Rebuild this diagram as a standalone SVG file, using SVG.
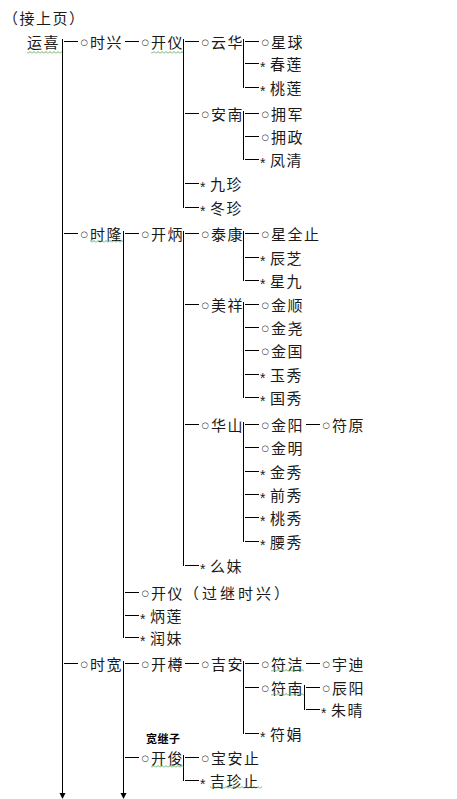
<svg xmlns="http://www.w3.org/2000/svg" width="457" height="799" viewBox="0 0 457 799">
<style>
text{font-family:"Noto Sans CJK SC","Noto Sans",sans-serif;font-size:15px;letter-spacing:1.5px;fill:#1a1a1a}
.o{font-family:"DejaVu Sans",sans-serif;font-size:8.5px;letter-spacing:0}
.s{font-family:"Liberation Sans",Arial,sans-serif;font-size:14px;letter-spacing:0}
.w{letter-spacing:3px}
.note{font-size:11px;font-weight:bold;letter-spacing:0.5px;fill:#000}
.ln{stroke:#000;stroke-width:1;fill:none;shape-rendering:crispEdges}
.sq{fill:url(#sq)}
</style>
<defs>
<marker id="arr" markerUnits="userSpaceOnUse" markerWidth="7" markerHeight="7" refX="0" refY="3" orient="auto"><path d="M0,0 L6,3 L0,6 z" fill="#000"/></marker>
<pattern id="sq" width="4" height="3" patternUnits="userSpaceOnUse"><path d="M0,2.5 L2,0.5 L4,2.5" fill="none" stroke="#3c9a3c" stroke-width="0.8"/></pattern>
</defs>
<rect width="457" height="799" fill="#fff"/>
<text x="3" y="24">（接上页）</text>
<g id="connectors">
<path class="ln" d="M62.5 39V793" marker-end="url(#arr)"/>
<path class="ln" d="M64 41.5H78M64 233.5H78M64 663.5H78"/>
<path class="ln" d="M125 41.5H139"/>
<path class="ln" d="M123.5 231V637.5M125 233.5H139M125 592.5H139M125 615.5H139M125 637.5H139"/>
<path class="ln" d="M123.5 661V793" marker-end="url(#arr)"/>
<path class="ln" d="M125 663.5H139M125 757.5H139"/>
<path class="ln" d="M183.5 39V207.5M185 41.5H199M185 113.5H199M185 183.5H199M185 207.5H199"/>
<path class="ln" d="M183.5 231V565.5M185 233.5H199M185 304.5H199M185 424.5H199M185 565.5H199"/>
<path class="ln" d="M185 663.5H199"/>
<path class="ln" d="M183.5 755V780.5M185 757.5H199M185 780.5H199"/>
<path class="ln" d="M243.5 39V87.5M245 41.5H259M245 63.5H259M245 87.5H259"/>
<path class="ln" d="M243.5 111V159.5M245 113.5H259M245 136.5H259M245 159.5H259"/>
<path class="ln" d="M243.5 231V280.5M245 233.5H259M245 257.5H259M245 280.5H259"/>
<path class="ln" d="M243.5 302V397.5M245 304.5H259M245 327.5H259M245 350.5H259M245 374.5H259M245 397.5H259"/>
<path class="ln" d="M243.5 422V541.5M245 424.5H259M245 447.5H259M245 471.5H259M245 494.5H259M245 517.5H259M245 541.5H259"/>
<path class="ln" d="M243.5 661V733.5M245 663.5H259M245 687.5H259M245 733.5H259"/>
<path class="ln" d="M306 424.5H320M306 663.5H320"/>
<path class="ln" d="M304.5 685V709.5M306 687.5H320M306 709.5H320"/>
</g>
<g id="n-yunxi"><text x="27" y="47.5">运喜</text><rect class="sq" x="27" y="51" width="35" height="3"/></g>
<g id="n-shixing"><text><tspan class="o" x="80.5" y="44.5">○</tspan><tspan x="90" y="47.5">时兴</tspan></text></g>
<g id="n-shilong"><text><tspan class="o" x="80.5" y="236.5">○</tspan><tspan x="90" y="239.5">时隆</tspan></text><rect class="sq" x="90" y="240" width="33" height="3"/></g>
<g id="n-shikuan"><text><tspan class="o" x="80.5" y="666.5">○</tspan><tspan x="90" y="669.5">时宽</tspan></text></g>
<g id="n-kaiyi"><text><tspan class="o" x="141.5" y="44.5">○</tspan><tspan x="151" y="47.5">开仪</tspan></text><rect class="sq" x="151" y="51" width="32" height="3"/></g>
<g id="n-kaibing"><text><tspan class="o" x="141.5" y="236.5">○</tspan><tspan x="151" y="239.5">开炳</tspan></text></g>
<g id="n-kaiyi2"><text><tspan class="o" x="141.5" y="595.5">○</tspan><tspan x="151" y="598.5">开仪</tspan><tspan class="w">（过继时兴）</tspan></text></g>
<g id="n-binglian"><text><tspan class="s" x="140" y="624">*</tspan><tspan x="150" y="621.5">炳莲</tspan></text></g>
<g id="n-runmei"><text><tspan class="s" x="140" y="646">*</tspan><tspan x="150" y="643.5">润妹</tspan></text></g>
<g id="n-kaizun"><text><tspan class="o" x="141.5" y="666.5">○</tspan><tspan x="151" y="669.5">开樽</tspan></text></g>
<g id="n-kaijun"><text class="note" x="146" y="743">宽继子</text><text><tspan class="o" x="141.5" y="760.5">○</tspan><tspan x="151" y="763.5">开俊</tspan></text><rect class="sq" x="151" y="765" width="33" height="3"/></g>
<g id="n-yunhua"><text><tspan class="o" x="201.5" y="44.5">○</tspan><tspan x="211" y="47.5">云华</tspan></text></g>
<g id="n-annan"><text><tspan class="o" x="201.5" y="116.5">○</tspan><tspan x="211" y="119.5">安南</tspan></text></g>
<g id="n-jiuzhen"><text><tspan class="s" x="200" y="192">*</tspan><tspan x="210" y="189.5">九珍</tspan></text></g>
<g id="n-dongzhen"><text><tspan class="s" x="200" y="216">*</tspan><tspan x="210" y="213.5">冬珍</tspan></text></g>
<g id="n-taikang"><text><tspan class="o" x="201.5" y="236.5">○</tspan><tspan x="211" y="239.5">泰康</tspan></text></g>
<g id="n-meixiang"><text><tspan class="o" x="201.5" y="307.5">○</tspan><tspan x="211" y="310.5">美祥</tspan></text></g>
<g id="n-huashan"><text><tspan class="o" x="201.5" y="427.5">○</tspan><tspan x="211" y="430.5">华山</tspan></text></g>
<g id="n-yaomei"><text><tspan class="s" x="200" y="574">*</tspan><tspan x="210" y="571.5">么妹</tspan></text></g>
<g id="n-jian"><text><tspan class="o" x="201.5" y="666.5">○</tspan><tspan x="211" y="669.5">吉安</tspan></text></g>
<g id="n-baoanzhi"><text><tspan class="o" x="201.5" y="760.5">○</tspan><tspan x="211" y="763.5">宝安止</tspan></text></g>
<g id="n-jizhenzhi"><text><tspan class="s" x="200" y="789">*</tspan><tspan x="210" y="786.5">吉珍止</tspan></text><rect class="sq" x="210" y="786" width="52" height="3"/></g>
<g id="n-xingqiu"><text><tspan class="o" x="261.5" y="44.5">○</tspan><tspan x="271" y="47.5">星球</tspan></text></g>
<g id="n-chunlian"><text><tspan class="s" x="260" y="72">*</tspan><tspan x="270" y="69.5">春莲</tspan></text></g>
<g id="n-taolian"><text><tspan class="s" x="260" y="96">*</tspan><tspan x="270" y="93.5">桃莲</tspan></text></g>
<g id="n-yongjun"><text><tspan class="o" x="261.5" y="116.5">○</tspan><tspan x="271" y="119.5">拥军</tspan></text></g>
<g id="n-yongzheng"><text><tspan class="o" x="261.5" y="139.5">○</tspan><tspan x="271" y="142.5">拥政</tspan></text></g>
<g id="n-fengqing"><text><tspan class="s" x="260" y="168">*</tspan><tspan x="270" y="165.5">凤清</tspan></text></g>
<g id="n-xingquanzhi"><text><tspan class="o" x="261.5" y="236.5">○</tspan><tspan x="271" y="239.5">星全止</tspan></text></g>
<g id="n-chenzhi"><text><tspan class="s" x="260" y="266">*</tspan><tspan x="270" y="263.5">辰芝</tspan></text></g>
<g id="n-xingjiu"><text><tspan class="s" x="260" y="289">*</tspan><tspan x="270" y="286.5">星九</tspan></text></g>
<g id="n-jinshun"><text><tspan class="o" x="261.5" y="307.5">○</tspan><tspan x="271" y="310.5">金顺</tspan></text></g>
<g id="n-jinyao"><text><tspan class="o" x="261.5" y="330.5">○</tspan><tspan x="271" y="333.5">金尧</tspan></text></g>
<g id="n-jinguo"><text><tspan class="o" x="261.5" y="353.5">○</tspan><tspan x="271" y="356.5">金国</tspan></text></g>
<g id="n-yuxiu"><text><tspan class="s" x="260" y="383">*</tspan><tspan x="270" y="380.5">玉秀</tspan></text></g>
<g id="n-guoxiu"><text><tspan class="s" x="260" y="406">*</tspan><tspan x="270" y="403.5">国秀</tspan></text></g>
<g id="n-jinyang"><text><tspan class="o" x="261.5" y="427.5">○</tspan><tspan x="271" y="430.5">金阳</tspan></text></g>
<g id="n-jinming"><text><tspan class="o" x="261.5" y="450.5">○</tspan><tspan x="271" y="453.5">金明</tspan></text></g>
<g id="n-jinxiu"><text><tspan class="s" x="260" y="480">*</tspan><tspan x="270" y="477.5">金秀</tspan></text></g>
<g id="n-qianxiu"><text><tspan class="s" x="260" y="503">*</tspan><tspan x="270" y="500.5">前秀</tspan></text></g>
<g id="n-taoxiu"><text><tspan class="s" x="260" y="526">*</tspan><tspan x="270" y="523.5">桃秀</tspan></text></g>
<g id="n-yaoxiu"><text><tspan class="s" x="260" y="550">*</tspan><tspan x="270" y="547.5">腰秀</tspan></text></g>
<g id="n-fujie"><text><tspan class="o" x="261.5" y="666.5">○</tspan><tspan x="271" y="669.5">符洁</tspan></text><rect class="sq" x="271" y="669" width="33" height="3"/></g>
<g id="n-funan"><text><tspan class="o" x="261.5" y="690.5">○</tspan><tspan x="271" y="693.5">符南</tspan></text><rect class="sq" x="271" y="693" width="33" height="3"/></g>
<g id="n-fujuan"><text><tspan class="s" x="260" y="742">*</tspan><tspan x="270" y="739.5">符娟</tspan></text></g>
<g id="n-fuyuan"><text><tspan class="o" x="322.5" y="427.5">○</tspan><tspan x="332" y="430.5">符原</tspan></text></g>
<g id="n-yudi"><text><tspan class="o" x="322.5" y="666.5">○</tspan><tspan x="332" y="669.5">宇迪</tspan></text></g>
<g id="n-chenyang"><text><tspan class="o" x="322.5" y="690.5">○</tspan><tspan x="332" y="693.5">辰阳</tspan></text></g>
<g id="n-zhuqing"><text><tspan class="s" x="321" y="718">*</tspan><tspan x="331" y="715.5">朱晴</tspan></text></g>
</svg>
